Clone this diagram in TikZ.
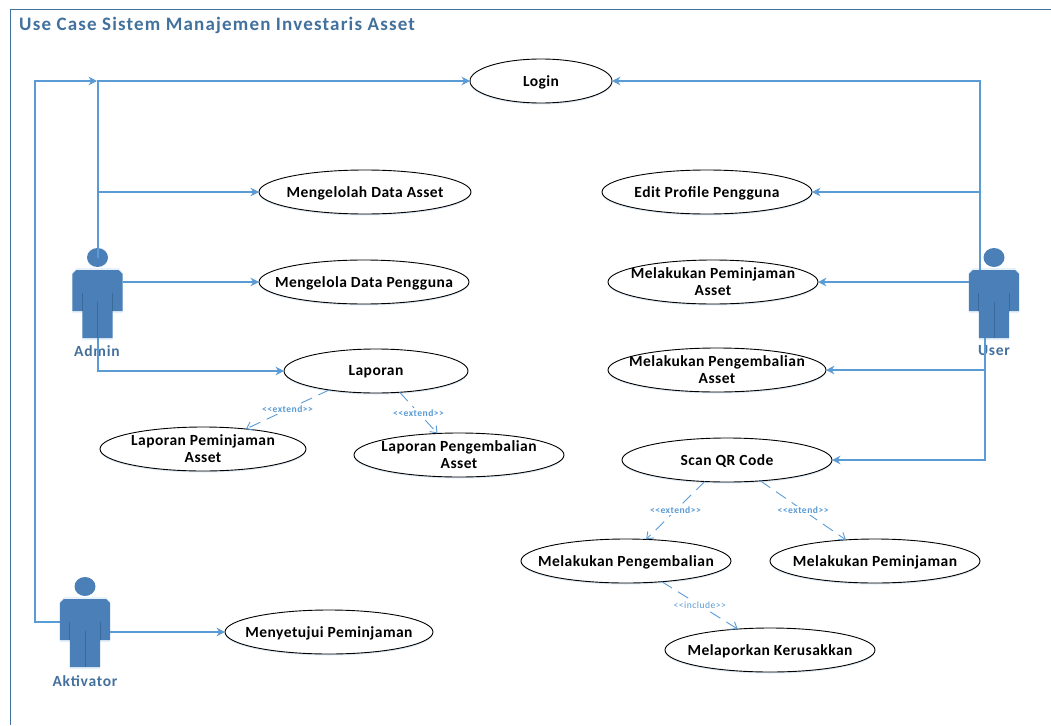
\documentclass[tikz,border=0pt]{standalone}
\usepackage{fontspec}
\setmainfont{Carlito}
\newfontfamily\wideA[LetterSpace=3]{Carlito}
\newfontfamily\wideB[LetterSpace=6.2]{Carlito}
\newfontfamily\wideC[LetterSpace=5]{Carlito}
\usetikzlibrary{arrows.meta,shapes.geometric,shadows}
\definecolor{linec}{HTML}{5B9BD5}
\definecolor{framec}{HTML}{41719C}
\definecolor{actorf}{HTML}{4A80B7}
\definecolor{actord}{HTML}{3A6A9A}
\definecolor{labc}{HTML}{44709D}
\tikzset{
  x=1pt,y=-1pt,
  usecase/.style={draw=black,line width=0.9pt,ellipse,fill=white,inner sep=0pt,outer sep=0pt,
    minimum height=44pt,
    drop shadow={shadow xshift=0pt,shadow yshift=-1.5pt,fill=linec!60,opacity=.35}},
  uclab/.style={align=center,font=\wideA\fontsize{15.5}{17}\selectfont\bfseries,text=black,inner sep=0pt},
  ucone/.style={label={[uclab,yshift=-1pt]center:{#1}}},
  uctwo/.style={label={[uclab,yshift=0.5pt]center:{#1}}},
  conn/.style={draw=linec,line width=1.1pt,-{Stealth[length=8.5pt,width=8.5pt]}},
  dep/.style={draw=linec,line width=0.9pt,dash pattern=on 12pt off 7pt,-{Straight Barb[length=6pt,width=9pt]}},
  deplab/.style={fill=white,inner sep=1pt,text=linec,font=\wideC\fontsize{9.6}{11}\selectfont\bfseries},
  deplabl/.style={fill=white,inner sep=1pt,text=linec,font=\wideC\fontsize{9.6}{11}\selectfont},
  actorlab/.style={text=labc,font=\wideC\fontsize{15.5}{17}\selectfont\bfseries,inner sep=0pt},
  actor/.pic={
    \fill[linec!40,opacity=.35] (-25.2,-32) -- (-21.2,-36) -- (21.2,-36) -- (25.2,-32) -- (25.2,9) -- (15.2,9) -- (15.2,36) -- (-15.2,36) -- (-15.2,9) -- (-25.2,9) -- cycle;
    \fill[actorf] (-25.2,-30) -- (-21.2,-34) -- (21.2,-34) -- (25.2,-30) -- (25.2,7) -- (15.2,7) -- (15.2,34) -- (-15.2,34) -- (-15.2,7) -- (-25.2,7) -- cycle;
    \node[ellipse,fill=actorf,minimum width=21pt,minimum height=19pt,inner sep=0pt,outer sep=0pt] (-head) at (0,-46.5) {};
    \node[minimum width=50.4pt,minimum height=68pt,inner sep=0pt,outer sep=0pt] (-box) at (0,0) {};
    \draw[actord,line width=0.8pt] (-15.2,-11) -- (-15.2,7) (15.2,-11) -- (15.2,7) (0,-2) -- (0,34);
  },
}
\begin{document}
\begin{tikzpicture}
\useasboundingbox (0,0) rectangle (1051,725);
\draw[framec,line width=0.8pt] (1051,9.5) -- (10.5,9.5) -- (10.5,725);
\node[anchor=base west,inner sep=0pt,text=framec,font=\wideB\fontsize{19}{21}\selectfont\bfseries] (title) at (19,31) {Use Case Sistem Manajemen Investaris Asset};

\pic (admin) at (97.5,304) {actor};
\pic (user) at (994,304) {actor};
\pic (akt) at (85,633) {actor};
\node[actorlab] (adminlab) at (97,351) {Admin};
\node[actorlab] (userlab) at (994,351) {User};
\node[actorlab] (aktlab) at (85,681) {Aktivator};

\node[usecase,minimum width=142pt,ucone={Login}] (login) at (541,81) {};
\node[usecase,minimum width=212pt,ucone={Mengelolah Data Asset}] (data) at (365,192) {};
\node[usecase,minimum width=210pt,ucone={Mengelola Data Pengguna}] (peng) at (364,282) {};
\node[usecase,minimum width=184pt,ucone={Laporan}] (lap) at (376,371) {};
\node[usecase,minimum width=206pt,uctwo={Laporan Peminjaman\\Asset}] (lappin) at (203,449) {};
\node[usecase,minimum width=210pt,uctwo={Laporan Pengembalian\\Asset}] (lapkem) at (459,455) {};
\node[usecase,minimum width=210pt,ucone={Edit Profile Pengguna}] (edit) at (707,192) {};
\node[usecase,minimum width=210pt,uctwo={Melakukan Peminjaman\\Asset}] (pinjam) at (713,282) {};
\node[usecase,minimum width=218pt,uctwo={Melakukan Pengembalian\\Asset}] (kembali) at (717,370) {};
\node[usecase,minimum width=210pt,ucone={Scan QR Code}] (scan) at (727,460) {};
\node[usecase,minimum width=210pt,ucone={Melakukan Pengembalian}] (mkem) at (626,561) {};
\node[usecase,minimum width=210pt,ucone={Melakukan Peminjaman}] (mpin) at (875,561) {};
\node[usecase,minimum width=210pt,ucone={Melaporkan Kerusakkan}] (rusak) at (770,650) {};
\node[usecase,minimum width=208pt,ucone={Menyetujui Peminjaman}] (setuju) at (329,632) {};

\coordinate (adminin) at (97,81);
\coordinate (aktleft) at (60,622);
\coordinate (corner1) at (35,622);
\coordinate (corner2) at (35,81);
\coordinate (userup) at (980,270);
\coordinate (userdown) at (985,338);
\coordinate (adminup) at (98,258);
\coordinate (admindown) at (98,338);

\draw[conn] (adminup) |- (login.west);
\draw[conn] (aktleft) -- (corner1) -- (corner2) -- (adminin);
\draw[conn] (adminup |- data.west) -- (data.west);
\draw[conn] (admin-box.east |- peng.west) -- (peng.west);
\draw[conn] (admindown) |- (lap.west);
\draw[conn] (akt-box.east |- setuju.west) -- (setuju.west);

\draw[conn] (userup) |- (login.east);
\draw[conn] (userup |- edit.east) -- (edit.east);
\draw[conn] (user-box.west |- pinjam.east) -- (pinjam.east);
\draw[conn] (userdown |- kembali.east) -- (kembali.east);
\draw[conn] (userdown) |- (scan.east);

\draw[dep] (lap.202.9) -- node[deplab] (e1) {<{}<extend>{}>} (lappin.25.5);
\draw[dep] (lap.-42) -- node[deplab] (e2) {<{}<extend>{}>} (lapkem.135);
\draw[dep] (scan.224) -- node[deplab] (e3) {<{}<extend>{}>} (mkem.47.6);
\draw[dep] (scan.-32.5) -- node[deplab] (e4) {<{}<extend>{}>} (mpin.144);
\draw[dep] (mkem.-30) -- node[deplabl] (i1) {<{}<include>{}>} (rusak.147);
\end{tikzpicture}
\end{document}
